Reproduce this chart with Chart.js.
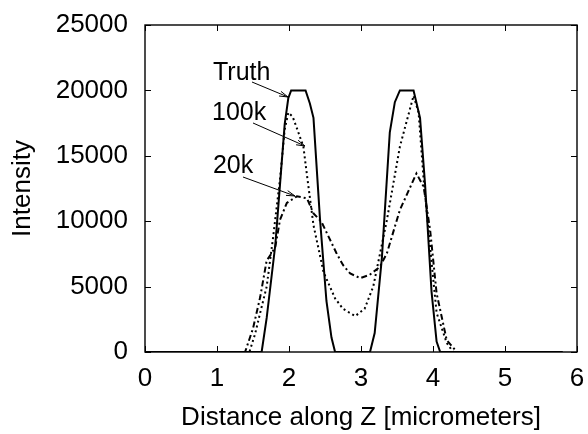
<!DOCTYPE html>
<html>
<head>
<meta charset="utf-8">
<script src="https://cdn.jsdelivr.net/npm/chart.js@4/dist/chart.umd.min.js"></script>
<style>
  html, body { margin: 0; padding: 0; background: #fff; }
  #wrap { width: 588px; height: 434px; }
</style>
</head>
<body>
<div id="wrap"><canvas id="plot" width="588" height="434"></canvas></div>
<script>
// Intensity profiles along Z
const truthX = [0, 1.62, 1.69, 1.81, 1.875, 1.94, 1.99, 2.03, 2.23, 2.29, 2.34, 2.43, 2.52, 2.59, 2.64,
                3.125, 3.19, 3.29, 3.40, 3.47, 3.54, 3.73, 3.82, 3.89, 3.98, 4.05, 4.10, 5.8];
const truthY = [0, 0, 2600, 8200, 12800, 17400, 19400, 20000, 20000, 19000, 17900, 10200, 3900, 1100, 0,
                0, 1450, 7200, 16800, 19100, 20000, 20000, 17900, 12800, 4600, 800, 0, 0];

const k100X = [0, 1.45, 1.53, 1.60, 1.69, 1.78, 1.875, 1.94, 1.99, 2.05, 2.11, 2.20, 2.25, 2.34, 2.48, 2.64,
               2.75, 2.92, 3.05, 3.17, 3.36, 3.54, 3.73, 3.80, 3.87, 3.96, 4.05, 4.19, 4.28, 5.8];
const k100Y = [0, 0, 1400, 3000, 5000, 8800, 13200, 17000, 18300, 18000, 17100, 15700, 13500, 9700, 6100, 4100,
               3300, 2750, 3300, 5000, 10100, 15700, 19600, 18300, 13200, 8000, 3000, 700, 0, 0];

const k20X = [0, 1.39, 1.50, 1.60, 1.69, 1.76, 1.81, 1.875, 1.97, 2.11, 2.25, 2.34, 2.45, 2.66, 2.75, 2.85,
              2.99, 3.12, 3.26, 3.36, 3.54, 3.77, 3.87, 3.96, 4.05, 4.19, 4.33, 5.8];
const k20Y = [0, 0, 1800, 4200, 7000, 7550, 8050, 10100, 11400, 11900, 11750, 10600, 9960, 7550, 6650, 6000,
              5650, 5900, 6500, 7550, 10860, 13650, 12640, 9330, 4490, 920, 0, 0];

const xTicks = [0, 1, 2, 3, 4, 5, 6];
const yTicks = [0, 5000, 10000, 15000, 20000, 25000];

// labels with arrows, in data coordinates
const labelText = ['Truth', '100k', '20k'];
const labelAt = [[0.944, 20795], [0.931, 17737], [0.944, 13685]];
const arrowFrom = [[1.486, 20642], [1.50, 17508], [1.361, 13379]];
const arrowTo = [[1.986, 19495], [2.222, 15749], [2.083, 11927]];

const FONT = "'Liberation Sans', Arial, sans-serif";

function toPoints(xs, ys) {
    return xs.map((x, i) => ({ x: x, y: ys[i] }));
}

// frame, inward ticks on all four sides, and the arrow labels
const decorPlugin = {
    id: 'decor',
    afterDatasetsDraw(chart) {
        const ctx = chart.ctx;
        const area = chart.chartArea;
        const xs = chart.scales.x;
        const ys = chart.scales.y;
        const tl = 6;

        ctx.save();
        ctx.strokeStyle = '#000';
        ctx.lineWidth = 1.4;
        ctx.strokeRect(area.left, area.top, area.right - area.left, area.bottom - area.top);

        ctx.lineWidth = 1;
        ctx.beginPath();
        xTicks.forEach(v => {
            const px = Math.round(xs.getPixelForValue(v)) + 0.5;
            ctx.moveTo(px, area.bottom); ctx.lineTo(px, area.bottom - tl);
            ctx.moveTo(px, area.top); ctx.lineTo(px, area.top + tl);
        });
        yTicks.forEach(v => {
            const py = Math.round(ys.getPixelForValue(v)) + 0.5;
            ctx.moveTo(area.left, py); ctx.lineTo(area.left + tl, py);
            ctx.moveTo(area.right, py); ctx.lineTo(area.right - tl, py);
        });
        ctx.stroke();

        // labels + arrows
        ctx.fillStyle = '#000';
        ctx.font = '25px ' + FONT;
        ctx.textAlign = 'left';
        ctx.textBaseline = 'alphabetic';
        labelText.forEach((t, i) => {
            ctx.fillText(t, xs.getPixelForValue(labelAt[i][0]), ys.getPixelForValue(labelAt[i][1]));

            const x1 = xs.getPixelForValue(arrowFrom[i][0]);
            const y1 = ys.getPixelForValue(arrowFrom[i][1]);
            const x2 = xs.getPixelForValue(arrowTo[i][0]);
            const y2 = ys.getPixelForValue(arrowTo[i][1]);
            const ang = Math.atan2(y2 - y1, x2 - x1);
            const hl = 9, ha = 0.28;
            ctx.beginPath();
            ctx.moveTo(x1, y1); ctx.lineTo(x2, y2);
            ctx.moveTo(x2 - hl * Math.cos(ang - ha), y2 - hl * Math.sin(ang - ha));
            ctx.lineTo(x2, y2);
            ctx.lineTo(x2 - hl * Math.cos(ang + ha), y2 - hl * Math.sin(ang + ha));
            ctx.stroke();
        });
        ctx.restore();
    }
};

const lineStyle = {
    borderColor: '#000',
    borderWidth: 2,
    pointRadius: 0,
    fill: false,
    tension: 0,
    showLine: true
};

new Chart(document.getElementById('plot'), {
    type: 'scatter',
    data: {
        datasets: [
            Object.assign({ label: 'Truth', data: toPoints(truthX, truthY) }, lineStyle),
            Object.assign({ label: '100k', data: toPoints(k100X, k100Y), borderDash: [2, 3] }, lineStyle),
            Object.assign({ label: '20k', data: toPoints(k20X, k20Y), borderDash: [6, 3, 2, 3] }, lineStyle)
        ]
    },
    options: {
        responsive: false,
        animation: false,
        layout: { padding: { left: 0, right: 11, top: 25, bottom: 0 } },
        plugins: {
            legend: { display: false },
            tooltip: { enabled: false }
        },
        scales: {
            x: {
                type: 'linear',
                min: 0, max: 6,
                afterFit(scale) {
                    scale.height = 82;
                    scale.paddingLeft = 0;
                    scale.paddingRight = 0;
                },
                afterBuildTicks(scale) { scale.ticks = xTicks.map(v => ({ value: v })); },
                grid: { display: false, drawTicks: false },
                border: { display: false },
                ticks: { color: '#000', padding: 11, font: { family: FONT, size: 26 }, maxRotation: 0 },
                title: {
                    display: true,
                    text: 'Distance along Z [micrometers]',
                    color: '#000',
                    font: { family: FONT, size: 26 },
                    padding: { top: 0, bottom: 1 }
                }
            },
            y: {
                type: 'linear',
                min: 0, max: 25000,
                afterFit(scale) {
                    scale.width = 145;
                    scale.paddingTop = 0;
                    scale.paddingBottom = 0;
                },
                afterBuildTicks(scale) { scale.ticks = yTicks.map(v => ({ value: v })); },
                grid: { display: false, drawTicks: false },
                border: { display: false },
                ticks: { color: '#000', padding: 17, font: { family: FONT, size: 26 },
                         callback: v => String(v) },
                title: {
                    display: true,
                    text: 'Intensity',
                    color: '#000',
                    font: { family: FONT, size: 26 },
                    padding: { top: 7, bottom: 0 }
                }
            }
        }
    },
    plugins: [decorPlugin]
});
</script>
</body>
</html>
